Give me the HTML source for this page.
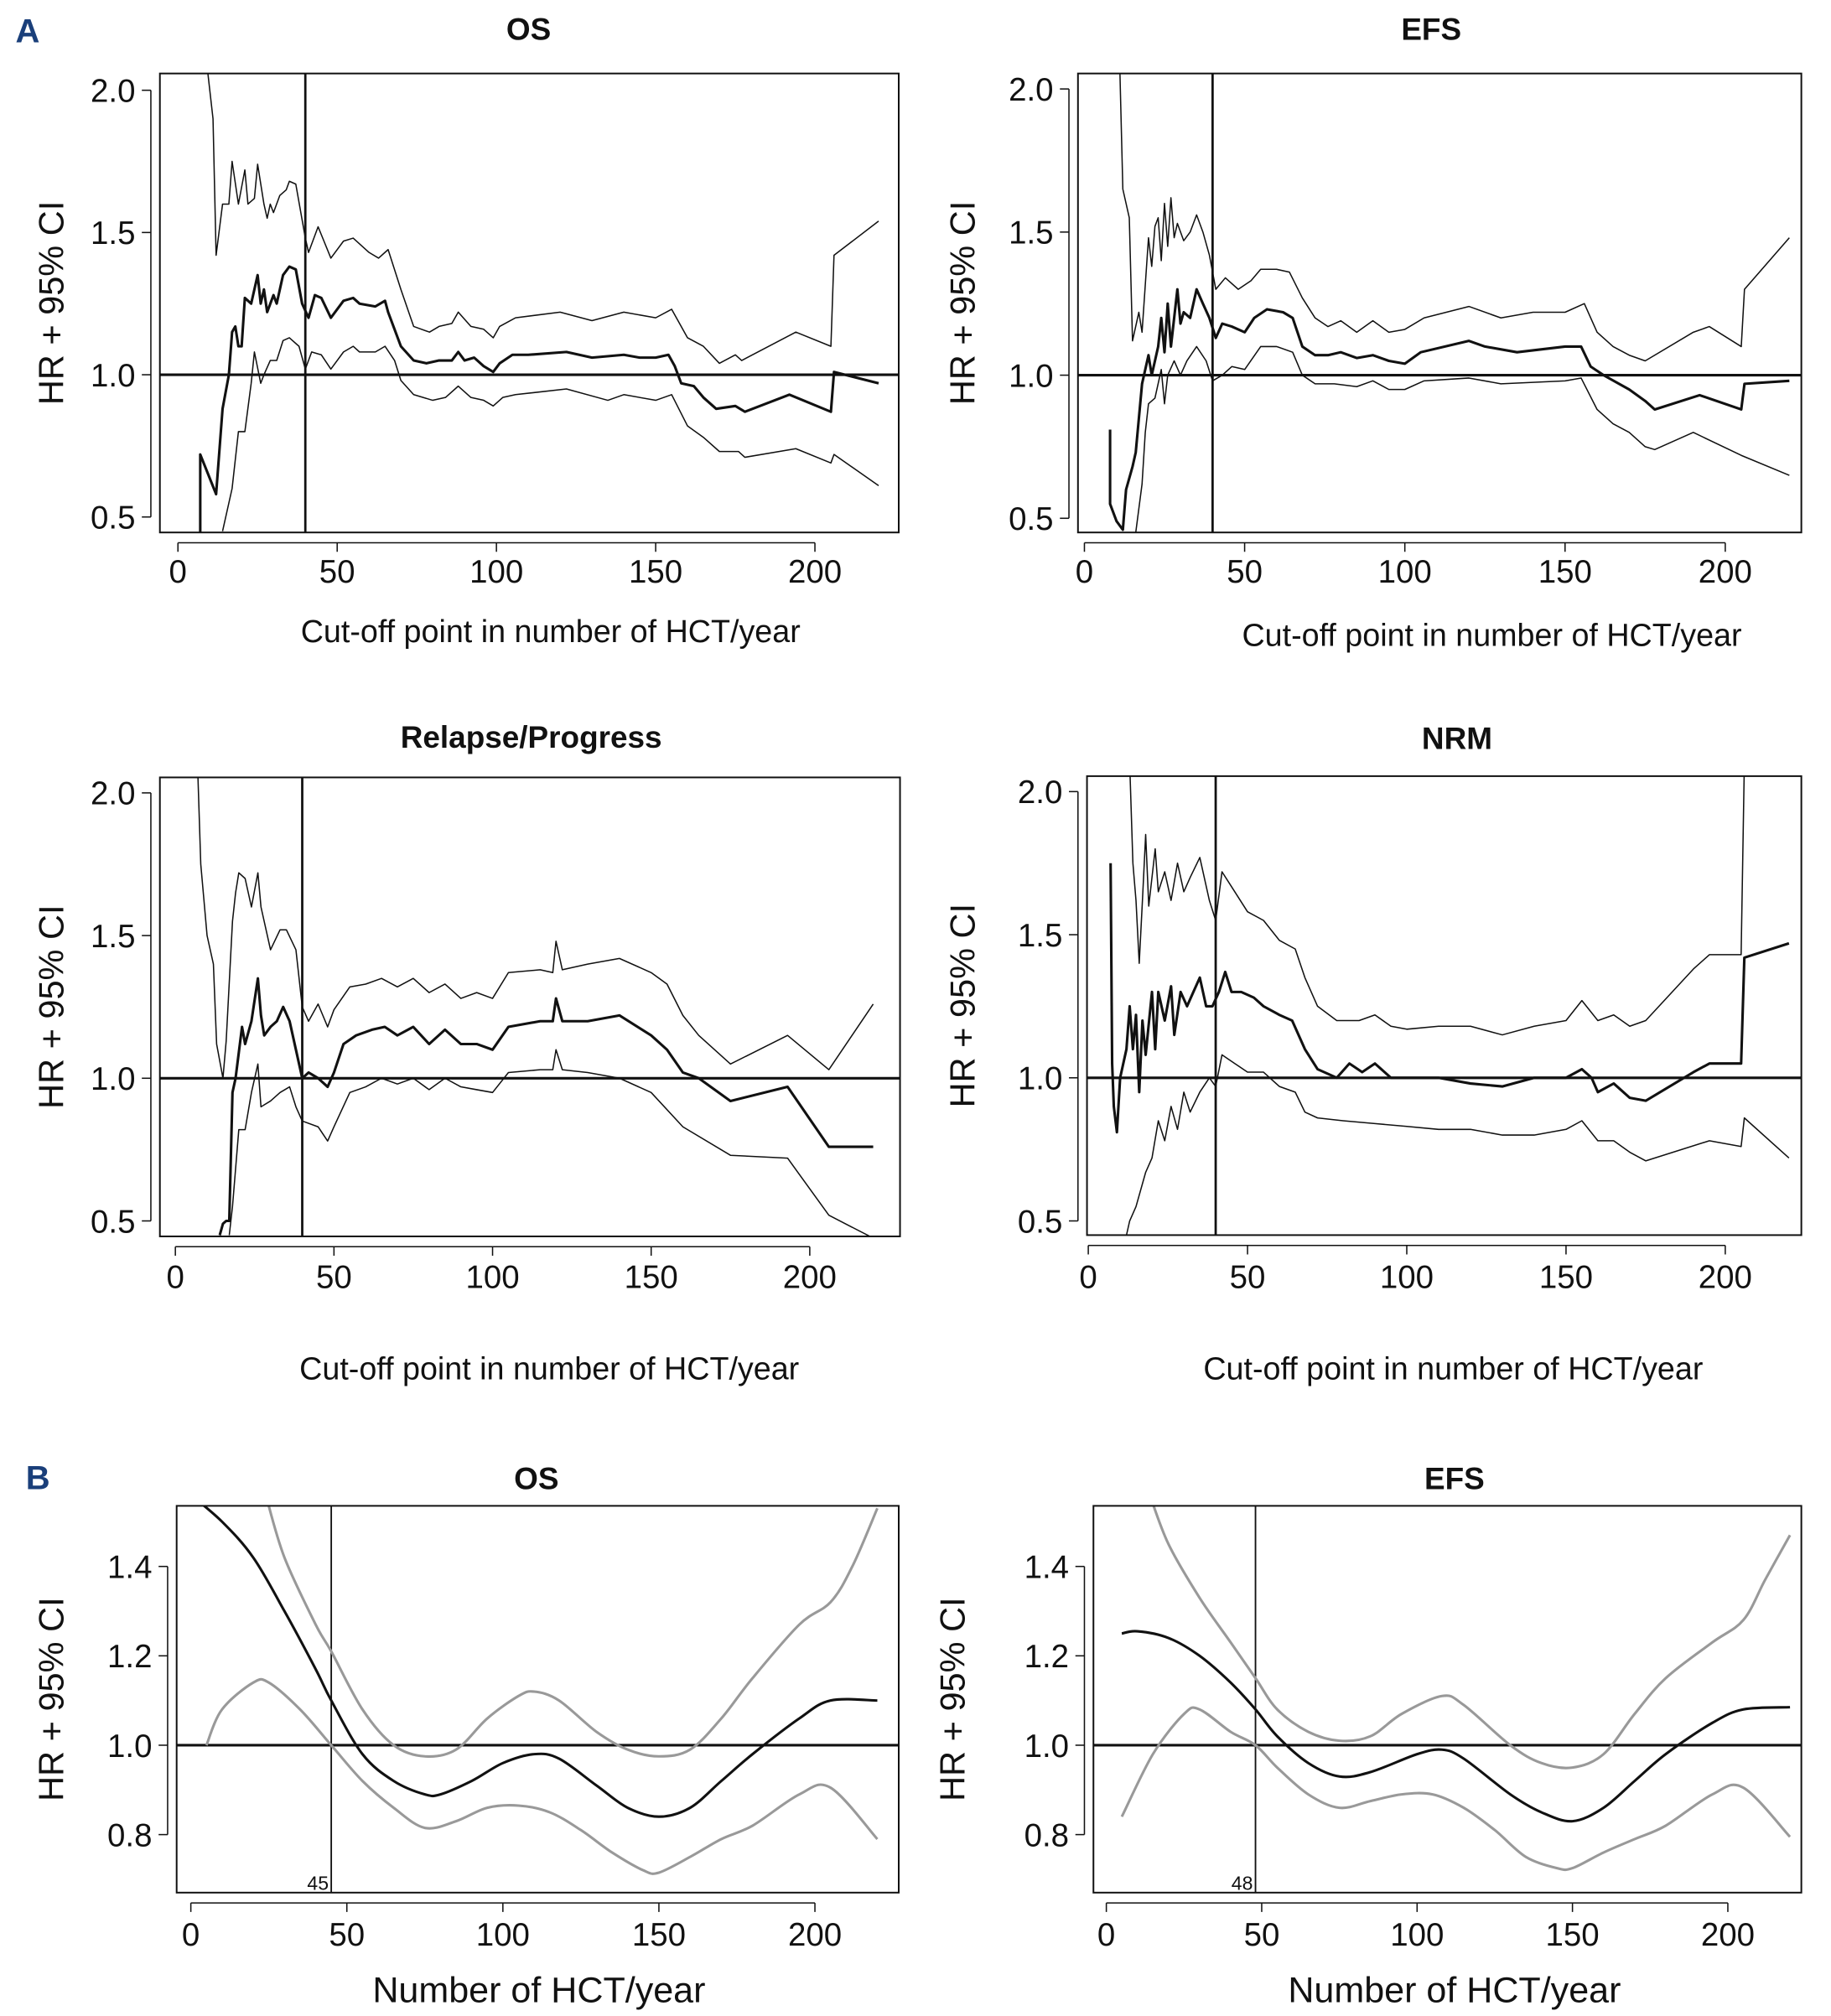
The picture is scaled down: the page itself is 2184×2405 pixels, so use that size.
<!DOCTYPE html>
<html><head><meta charset="utf-8"><style>
html,body{margin:0;padding:0;background:#fff}
svg{display:block}
text{font-family:"Liberation Sans",sans-serif;fill:#111}
</style></head><body>
<svg id="fig" width="2184" height="2405" viewBox="0 0 1420 1563.7" preserveAspectRatio="none" xmlns="http://www.w3.org/2000/svg">
<text x="12" y="33" font-size="26" font-weight="bold" style="fill:#1a3f7a">A</text>
<text x="20" y="1155" font-size="26" font-weight="bold" style="fill:#1a3f7a">B</text>
</svg>
<script>
// ---- data: A OS ----
const osX=[7,7,12,14,16,17,18,19,20,21,23,25,26,27,28,30,31,33,35,37,39,41,43,45,48,52,55,57,62,65,66,70,74,78,82,86,88,90,93,96,99,101,105,110,122,130,140,145,150,154,156,158,162,165,169,175,178,192,205,206,220];
const osHR=[0.4,0.72,0.58,0.88,1.0,1.15,1.17,1.1,1.1,1.27,1.25,1.35,1.25,1.3,1.22,1.28,1.25,1.35,1.38,1.37,1.25,1.2,1.28,1.27,1.2,1.26,1.27,1.25,1.24,1.26,1.22,1.1,1.05,1.04,1.05,1.05,1.08,1.05,1.06,1.03,1.01,1.04,1.07,1.07,1.08,1.06,1.07,1.06,1.06,1.07,1.03,0.97,0.96,0.92,0.88,0.89,0.87,0.93,0.87,1.01,0.97];
const osUX=[9,11,12,14,16,17,19,21,22,24,25,27,28,29,30,32,34,35,37,40,41,44,48,52,55,60,63,66,70,74,79,82,86,88,92,96,99,101,106,120,130,140,150,155,160,165,170,175,177,194,205,206,220];
const osU=[2.1,1.9,1.42,1.6,1.6,1.75,1.6,1.72,1.6,1.62,1.74,1.6,1.55,1.6,1.57,1.63,1.65,1.68,1.67,1.48,1.43,1.52,1.41,1.47,1.48,1.43,1.41,1.44,1.3,1.17,1.15,1.17,1.18,1.22,1.17,1.16,1.13,1.17,1.2,1.22,1.19,1.22,1.2,1.23,1.13,1.1,1.04,1.07,1.05,1.15,1.1,1.42,1.54];
const osLX=[14,17,19,21,23,24,26,27,29,31,33,35,38,40,42,45,48,52,55,57,62,65,68,70,74,80,84,88,92,96,99,102,106,122,135,140,150,155,160,165,170,176,178,194,205,206,220];
const osL=[0.45,0.6,0.8,0.8,0.97,1.08,0.97,1.0,1.05,1.05,1.12,1.13,1.1,1.02,1.08,1.07,1.02,1.08,1.1,1.08,1.08,1.1,1.05,0.98,0.93,0.91,0.92,0.96,0.92,0.91,0.89,0.92,0.93,0.95,0.91,0.93,0.91,0.93,0.82,0.78,0.73,0.73,0.71,0.74,0.69,0.72,0.61];
// ---- data: A EFS ----
const efsX=[8,8,10,12,13,15,16,18,20,21,23,24,25,26,27,29,30,31,33,35,37,39,41,43,46,50,53,57,62,65,68,72,76,80,85,90,95,100,105,120,125,135,150,155,158,162,170,175,178,192,205,206,220];
const efsHR=[0.81,0.55,0.49,0.46,0.6,0.68,0.73,0.97,1.07,1.0,1.1,1.2,1.08,1.25,1.1,1.3,1.18,1.22,1.2,1.3,1.25,1.2,1.13,1.18,1.17,1.15,1.2,1.23,1.22,1.2,1.1,1.07,1.07,1.08,1.06,1.07,1.05,1.04,1.08,1.12,1.1,1.08,1.1,1.1,1.03,1.0,0.95,0.91,0.88,0.93,0.88,0.97,0.98];
const efsUX=[11,12,14,15,17,18,20,21,22,23,24,25,26,27,28,29,31,33,35,37,39,41,44,48,52,55,60,64,68,72,76,80,85,90,95,100,106,120,130,140,150,156,160,165,170,175,190,195,205,206,220];
const efsU=[2.1,1.65,1.55,1.12,1.22,1.15,1.48,1.38,1.52,1.55,1.4,1.6,1.45,1.62,1.48,1.53,1.47,1.5,1.56,1.5,1.42,1.3,1.34,1.3,1.33,1.37,1.37,1.36,1.27,1.2,1.17,1.19,1.15,1.19,1.15,1.16,1.2,1.24,1.2,1.22,1.22,1.25,1.15,1.1,1.07,1.05,1.15,1.17,1.1,1.3,1.48];
const efsLX=[16,18,19,20,22,24,25,26,28,30,32,35,38,40,43,46,50,55,60,65,68,72,78,85,90,95,100,106,120,130,150,155,160,165,170,175,178,190,205,220];
const efsL=[0.45,0.62,0.8,0.9,0.92,1.02,0.9,1.0,1.05,1.0,1.05,1.1,1.05,0.98,1.0,1.03,1.02,1.1,1.1,1.08,1.0,0.97,0.97,0.96,0.98,0.95,0.95,0.98,0.99,0.97,0.98,0.99,0.88,0.83,0.8,0.75,0.74,0.8,0.72,0.65];
// ---- data: A Relapse/Progress ----
const relX=[14,15,16,17,18,19,21,22,24,26,27,28,30,32,34,36,38,40,42,45,48,50,53,57,62,66,70,75,80,85,90,95,100,105,115,119,120,122,130,140,150,155,160,165,175,193,206,220];
const relHR=[0.45,0.49,0.5,0.5,0.95,1.0,1.18,1.12,1.2,1.35,1.22,1.15,1.18,1.2,1.25,1.2,1.1,1.0,1.02,1.0,0.97,1.02,1.12,1.15,1.17,1.18,1.15,1.18,1.12,1.17,1.12,1.12,1.1,1.18,1.2,1.2,1.28,1.2,1.2,1.22,1.15,1.1,1.02,1.0,0.92,0.97,0.76,0.76];
const relUX=[7,8,10,12,13,15,16,18,19,20,22,24,26,27,30,33,35,38,40,42,45,48,50,55,60,65,70,75,80,85,90,95,100,105,115,119,120,122,130,140,150,155,160,165,175,193,206,220];
const relU=[2.1,1.75,1.5,1.4,1.12,1.0,1.13,1.55,1.65,1.72,1.7,1.6,1.72,1.6,1.45,1.52,1.52,1.45,1.25,1.2,1.26,1.18,1.24,1.32,1.33,1.35,1.32,1.35,1.3,1.33,1.28,1.3,1.28,1.37,1.38,1.37,1.48,1.38,1.4,1.42,1.37,1.33,1.22,1.15,1.05,1.15,1.03,1.26];
const relLX=[17,18,20,22,24,26,27,30,33,36,38,40,45,48,50,55,60,65,70,75,80,85,90,95,100,105,115,119,120,122,130,140,150,160,175,193,206,220];
const relL=[0.45,0.55,0.82,0.82,0.95,1.05,0.9,0.92,0.95,0.97,0.9,0.85,0.83,0.78,0.83,0.95,0.97,1.0,0.98,1.0,0.96,1.0,0.97,0.96,0.95,1.02,1.03,1.03,1.1,1.03,1.02,1.0,0.95,0.83,0.73,0.72,0.52,0.44];
// ---- data: A NRM ----
const nrmX=[7,7.5,8,9,10,12,13,14,15,16,17,18,20,21,22,24,26,27,29,31,33,35,37,39,41,43,45,48,52,55,60,64,68,72,78,82,86,90,95,100,110,120,130,140,150,155,158,160,165,170,175,190,195,205,206,220];
const nrmHR=[1.75,1.05,0.9,0.81,1.0,1.1,1.25,1.1,1.22,0.95,1.2,1.08,1.3,1.1,1.3,1.2,1.32,1.15,1.3,1.25,1.3,1.35,1.25,1.25,1.3,1.37,1.3,1.3,1.28,1.25,1.22,1.2,1.1,1.03,1.0,1.05,1.02,1.05,1.0,1.0,1.0,0.98,0.97,1.0,1.0,1.03,1.0,0.95,0.98,0.93,0.92,1.02,1.05,1.05,1.42,1.47];
const nrmUX=[13,14,15,16,17,18,19,21,22,24,26,28,30,32,35,38,40,42,46,50,55,60,65,68,72,78,85,90,95,100,110,120,130,140,150,155,160,165,170,175,190,195,205,206];
const nrmU=[2.1,1.75,1.62,1.4,1.62,1.85,1.6,1.8,1.65,1.72,1.62,1.75,1.65,1.7,1.77,1.62,1.55,1.72,1.65,1.58,1.55,1.48,1.45,1.35,1.25,1.2,1.2,1.22,1.18,1.17,1.18,1.18,1.15,1.18,1.2,1.27,1.2,1.22,1.18,1.2,1.38,1.43,1.43,2.1];
const nrmLX=[12,13,15,18,20,22,24,26,28,30,32,35,38,40,42,46,50,55,60,65,68,72,80,90,100,110,120,130,140,150,155,160,165,170,175,195,205,206,220];
const nrmL=[0.45,0.5,0.55,0.67,0.72,0.85,0.78,0.9,0.82,0.95,0.88,0.95,1.0,0.97,1.08,1.05,1.02,1.02,0.97,0.95,0.88,0.86,0.85,0.84,0.83,0.82,0.82,0.8,0.8,0.82,0.85,0.78,0.78,0.74,0.71,0.78,0.76,0.86,0.72];
// ---- data: B OS ----
const bosX=[0,10,20,30,40,45,55,65,75,80,90,100,110,118,130,140,150,160,170,180,195,205,220];
const bosHR=[1.56,1.5,1.42,1.3,1.17,1.1,0.98,0.92,0.89,0.89,0.92,0.96,0.98,0.97,0.91,0.86,0.84,0.86,0.92,0.98,1.06,1.1,1.1];
const bosUX=[24,30,40,45,55,65,75,85,95,105,110,118,130,140,150,160,170,180,195,205,212,220];
const bosU=[1.56,1.42,1.27,1.21,1.08,1.0,0.975,0.99,1.06,1.11,1.12,1.1,1.03,0.99,0.975,0.99,1.06,1.15,1.27,1.32,1.4,1.53];
const bosLX=[5,10,20,25,35,45,55,65,75,85,95,105,115,125,135,145,150,160,170,180,195,205,220];
const bosL=[1.0,1.08,1.14,1.14,1.08,1.0,0.92,0.86,0.815,0.83,0.86,0.865,0.85,0.81,0.76,0.72,0.715,0.75,0.79,0.82,0.89,0.905,0.79];
// ---- data: B EFS ----
const befX=[5,10,20,30,40,48,55,65,75,85,100,108,115,130,140,150,160,170,180,195,205,220];
const befHR=[1.25,1.255,1.24,1.2,1.14,1.08,1.02,0.96,0.93,0.94,0.98,0.99,0.97,0.89,0.85,0.83,0.86,0.92,0.98,1.05,1.08,1.085];
const befUX=[14,20,30,40,48,55,65,75,85,95,108,115,130,140,150,160,170,180,195,205,212,220];
const befU=[1.56,1.45,1.33,1.23,1.15,1.08,1.03,1.01,1.02,1.07,1.11,1.09,1.0,0.96,0.95,0.98,1.07,1.15,1.23,1.28,1.37,1.47];
const befLX=[5,15,25,30,40,48,55,65,75,85,95,105,115,125,135,145,150,160,170,180,195,205,220];
const befL=[0.84,0.98,1.07,1.08,1.03,1.0,0.95,0.89,0.86,0.875,0.89,0.89,0.86,0.81,0.75,0.725,0.725,0.76,0.79,0.82,0.89,0.905,0.795];
// ---- tick labels ----
const xTicks=[0,50,100,150,200];
const yTicksA=[0.5,1.0,1.5,2.0];
const yTicksB=[0.8,1.0,1.2,1.4];

const NS='http://www.w3.org/2000/svg';
const svg=document.getElementById('fig');
function mk(tag,attrs,parent){const e=document.createElementNS(NS,tag);for(const k in attrs)e.setAttribute(k,attrs[k]);(parent||svg).appendChild(e);return e;}
function smoothPath(P){
  let d='M'+P[0][0].toFixed(1)+','+P[0][1].toFixed(1);
  for(let i=0;i<P.length-1;i++){
    const p0=P[Math.max(0,i-1)],p1=P[i],p2=P[i+1],p3=P[Math.min(P.length-1,i+2)];
    const c1=[p1[0]+(p2[0]-p0[0])/6,p1[1]+(p2[1]-p0[1])/6];
    const c2=[p2[0]-(p3[0]-p1[0])/6,p2[1]-(p3[1]-p1[1])/6];
    d+=' C'+c1[0].toFixed(1)+','+c1[1].toFixed(1)+' '+c2[0].toFixed(1)+','+c2[1].toFixed(1)+' '+p2[0].toFixed(1)+','+p2[1].toFixed(1);
  }
  return d;
}

function panel(p){
  const g=mk('g',{});
  
  
  const sx=v=>p.x0+(v-0)*(p.x200-p.x0)/200;
  const sy=v=>p.yA+(v-p.vA)*(p.yB-p.yA)/(p.vB-p.vA);
  const cid='clip-'+p.name;
  const cp=mk('clipPath',{id:cid},g);mk('rect',{x:p.L,y:p.T,width:p.R-p.L,height:p.B-p.T},cp);
  const plot=mk('g',{'clip-path':'url(#'+cid+')'},g);
  const h=mk('line',{x1:p.L,x2:p.R,y1:sy(1),y2:sy(1),stroke:'#111','stroke-width':2},plot);
  
  
  const v=mk('line',{x1:sx(p.cut),x2:sx(p.cut),y1:p.T,y2:p.B,stroke:'#111','stroke-width':p.bmode?1.2:1.8},plot);
  
  
  const series=[[p.lx,p.ly,'lower-ci-line'],[p.ux,p.uy,'upper-ci-line'],[p.hx,p.hy,'hr-line']];
  series.forEach(([xs,ys,nm])=>{
    const P=xs.map((x,i)=>[sx(x),sy(ys[i])]);
    const isHR=nm==='hr-line';
    const col=p.bmode?(isHR?'#111':'#999'):'#111';
    const w=p.bmode?2:(isHR?2:1);
    let el;
    if(p.bmode){
      el=mk('path',{d:smoothPath(P),fill:'none',stroke:col,'stroke-width':w},plot);
    }else{
      el=mk('polyline',{points:P.map(q=>q[0].toFixed(1)+','+q[1].toFixed(1)).join(' '),fill:'none',stroke:col,'stroke-width':w,'stroke-linejoin':'round'},plot);
    }
    
    
  });
  const box=mk('rect',{x:p.L,y:p.T,width:p.R-p.L,height:p.B-p.T,fill:'none',stroke:'#111','stroke-width':1.3},g);
  
  
  const ay=p.B+8;
  mk('line',{x1:sx(0),x2:sx(200),y1:ay,y2:ay,stroke:'#111','stroke-width':1},g);
  xTicks.forEach(t=>{
    mk('line',{x1:sx(t),x2:sx(t),y1:ay,y2:ay+7,stroke:'#111','stroke-width':1},g);
    const tx=mk('text',{x:sx(t),y:p.xLabY,'font-size':25,'text-anchor':'middle'},g);tx.textContent=t;
    
    
  });
  const ax=p.L-7;
  const yt=p.yt;
  mk('line',{x1:ax,x2:ax,y1:sy(yt[0]),y2:sy(yt[yt.length-1]),stroke:'#111','stroke-width':1},g);
  yt.forEach(t=>{
    mk('line',{x1:ax-7,x2:ax,y1:sy(t),y2:sy(t),stroke:'#111','stroke-width':1},g);
    const tx=mk('text',{x:ax-12,y:sy(t)+9,'font-size':25,'text-anchor':'end'},g);tx.textContent=t.toFixed(1);
    
    
  });
  if(p.bmode){
    const c=mk('text',{x:sx(p.cut)-2,y:p.B-2,'font-size':15,'text-anchor':'end'},g);c.textContent=String(p.cut);
    
    
  }
  const ti=mk('text',{x:p.tx,y:p.ty,'font-size':24,'font-weight':'bold','text-anchor':'middle'},g);ti.textContent=p.title;
  
  
  const xl=mk('text',{x:p.xlx,y:p.xly,'font-size':p.bmode?28:24.5,'text-anchor':'middle'},g);xl.textContent=p.xlabel;
  
  
  const cy=(p.T+p.B)/2;
  const yl=mk('text',{x:p.ylx,y:cy,'font-size':27,'text-anchor':'middle',transform:'rotate(-90 '+p.ylx+' '+cy+')'},g);yl.textContent='HR + 95% CI';
  
  
}
const XL='Cut-off point in number of HCT/year';
panel({name:'os-cutoff-chart',L:124,R:697,T:57,B:413,x0:138,x200:632,yA:70,vA:2.0,yB:401,vB:0.5,yt:yTicksA,cut:40,
  hx:osX,hy:osHR,ux:osUX,uy:osU,lx:osLX,ly:osL,title:'OS',tx:410,ty:31,xlabel:XL,xlx:427,xly:498,xLabY:452,ylx:49});
panel({name:'efs-cutoff-chart',L:836,R:1397,T:57,B:413,x0:841,x200:1338,yA:69,vA:2.0,yB:402,vB:0.5,yt:yTicksA,cut:40,
  hx:efsX,hy:efsHR,ux:efsUX,uy:efsU,lx:efsLX,ly:efsL,title:'EFS',tx:1110,ty:31,xlabel:XL,xlx:1157,xly:501,xLabY:452,ylx:756});
panel({name:'relapse-cutoff-chart',L:124,R:698,T:603,B:959,x0:136,x200:628,yA:615,vA:2.0,yB:947,vB:0.5,yt:yTicksA,cut:40,
  hx:relX,hy:relHR,ux:relUX,uy:relU,lx:relLX,ly:relL,title:'Relapse/Progress',tx:412,ty:580,xlabel:XL,xlx:426,xly:1070,xLabY:999,ylx:49});
panel({name:'nrm-cutoff-chart',L:843,R:1397,T:602,B:958,x0:844,x200:1338,yA:614,vA:2.0,yB:947,vB:0.5,yt:yTicksA,cut:40,
  hx:nrmX,hy:nrmHR,ux:nrmUX,uy:nrmU,lx:nrmLX,ly:nrmL,title:'NRM',tx:1130,ty:581,xlabel:XL,xlx:1127,xly:1070,xLabY:999,ylx:756});
panel({name:'os-volume-chart',bmode:true,L:137,R:697,T:1168,B:1468,x0:148,x200:632,yA:1215,vA:1.4,yB:1423,vB:0.8,yt:yTicksB,cut:45,
  hx:bosX,hy:bosHR,ux:bosUX,uy:bosU,lx:bosLX,ly:bosL,title:'OS',tx:416,ty:1155,xlabel:'Number of HCT/year',xlx:418,xly:1553,xLabY:1509,ylx:49});
panel({name:'efs-volume-chart',bmode:true,L:848,R:1397,T:1168,B:1468,x0:858,x200:1340,yA:1215,vA:1.4,yB:1423,vB:0.8,yt:yTicksB,cut:48,
  hx:befX,hy:befHR,ux:befUX,uy:befU,lx:befLX,ly:befL,title:'EFS',tx:1128,ty:1155,xlabel:'Number of HCT/year',xlx:1128,xly:1553,xLabY:1509,ylx:748});
</script>
</body></html>
